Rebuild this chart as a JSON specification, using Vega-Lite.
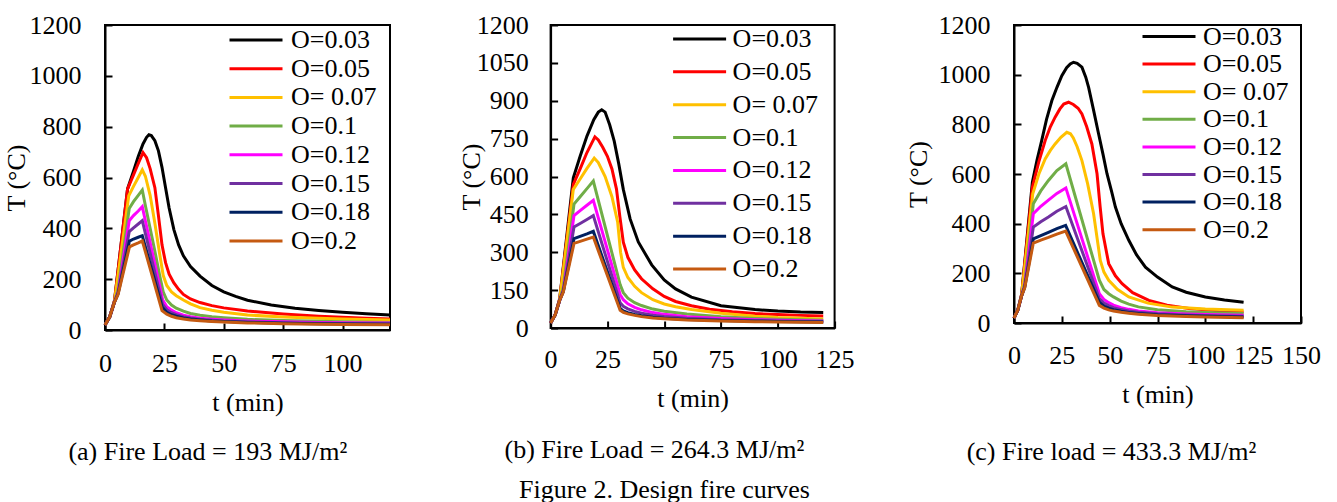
{
"$schema": "https://vega.github.io/schema/vega-lite/v6.json",
"background": "white",
"padding": {"left": 2, "top": 11, "right": 0, "bottom": 0},
"config": {
  "font": "Liberation Serif",
  "view": {"stroke": "#000000", "strokeWidth": 2},
  "axis": {"grid": false, "domainColor": "#000000", "domainWidth": 2, "tickColor": "#000000", "tickWidth": 2, "tickSize": -7, "labelColor": "#000000", "labelFontSize": 26, "titleColor": "#000000", "titleFontSize": 26, "titleFontWeight": "normal", "labelFlush": false, "labelOverlap": false, "labelFont": "Liberation Serif", "titleFont": "Liberation Serif"},
  "legend": {"orient": "none", "symbolType": "stroke", "symbolSize": 2809, "symbolStrokeWidth": 3, "labelFontSize": 26, "labelColor": "#000000", "labelFont": "Liberation Serif", "padding": 0, "labelLimit": 300},
  "title": {"fontSize": 26, "fontWeight": "normal", "color": "#000000", "font": "Liberation Serif"}
},
"title": {"text": "Figure 2. Design fire curves", "orient": "bottom", "anchor": "middle", "frame": "bounds", "offset": 10.5, "dx": 2.5},
"bounds": "flush",
"spacing": 160.6,
"resolve": {"scale": {"color": "independent"}, "legend": {"color": "independent"}},
"datasets": {
"a": [
{"O":"O=0.03","t":0,"T":20},{"O":"O=0.03","t":2,"T":52},{"O":"O=0.03","t":4,"T":115},{"O":"O=0.03","t":9.5,"T":555},{"O":"O=0.03","t":12,"T":625},{"O":"O=0.03","t":14,"T":683},{"O":"O=0.03","t":16,"T":732},{"O":"O=0.03","t":17.5,"T":758},{"O":"O=0.03","t":18.5,"T":768},{"O":"O=0.03","t":19.5,"T":765},{"O":"O=0.03","t":21,"T":745},{"O":"O=0.03","t":22.5,"T":705},{"O":"O=0.03","t":24,"T":640},{"O":"O=0.03","t":25.5,"T":560},{"O":"O=0.03","t":27,"T":480},{"O":"O=0.03","t":29,"T":395},{"O":"O=0.03","t":31,"T":335},{"O":"O=0.03","t":33,"T":292},{"O":"O=0.03","t":36,"T":250},{"O":"O=0.03","t":40,"T":212},{"O":"O=0.03","t":45,"T":175},{"O":"O=0.03","t":50,"T":150},{"O":"O=0.03","t":55,"T":132},{"O":"O=0.03","t":60,"T":117},{"O":"O=0.03","t":70,"T":98},{"O":"O=0.03","t":80,"T":86},{"O":"O=0.03","t":90,"T":77},{"O":"O=0.03","t":100,"T":70},{"O":"O=0.03","t":110,"T":64},{"O":"O=0.03","t":120,"T":59},
{"O":"O=0.05","t":0,"T":20},{"O":"O=0.05","t":2,"T":52},{"O":"O=0.05","t":4,"T":115},{"O":"O=0.05","t":9.5,"T":555},{"O":"O=0.05","t":12,"T":610},{"O":"O=0.05","t":14,"T":655},{"O":"O=0.05","t":16,"T":698},{"O":"O=0.05","t":17.5,"T":678},{"O":"O=0.05","t":19,"T":635},{"O":"O=0.05","t":21,"T":560},{"O":"O=0.05","t":22.5,"T":450},{"O":"O=0.05","t":24,"T":335},{"O":"O=0.05","t":25.5,"T":265},{"O":"O=0.05","t":27,"T":220},{"O":"O=0.05","t":29,"T":185},{"O":"O=0.05","t":31,"T":160},{"O":"O=0.05","t":33,"T":140},{"O":"O=0.05","t":36,"T":122},{"O":"O=0.05","t":40,"T":108},{"O":"O=0.05","t":45,"T":96},{"O":"O=0.05","t":50,"T":87},{"O":"O=0.05","t":60,"T":75},{"O":"O=0.05","t":75,"T":63},{"O":"O=0.05","t":90,"T":54},{"O":"O=0.05","t":100,"T":50},{"O":"O=0.05","t":110,"T":46},{"O":"O=0.05","t":120,"T":43},
{"O":"O= 0.07","t":0,"T":20},{"O":"O= 0.07","t":2,"T":52},{"O":"O= 0.07","t":4,"T":112},{"O":"O= 0.07","t":10,"T":528},{"O":"O= 0.07","t":12,"T":565},{"O":"O= 0.07","t":14,"T":600},{"O":"O= 0.07","t":15.7,"T":630},{"O":"O= 0.07","t":17,"T":605},{"O":"O= 0.07","t":19,"T":530},{"O":"O= 0.07","t":21,"T":420},{"O":"O= 0.07","t":23,"T":300},{"O":"O= 0.07","t":24.5,"T":215},{"O":"O= 0.07","t":26,"T":175},{"O":"O= 0.07","t":28,"T":150},{"O":"O= 0.07","t":30,"T":135},{"O":"O= 0.07","t":33,"T":118},{"O":"O= 0.07","t":36,"T":103},{"O":"O= 0.07","t":40,"T":88},{"O":"O= 0.07","t":45,"T":78},{"O":"O= 0.07","t":50,"T":70},{"O":"O= 0.07","t":60,"T":59},{"O":"O= 0.07","t":75,"T":51},{"O":"O= 0.07","t":90,"T":46},{"O":"O= 0.07","t":100,"T":43},{"O":"O= 0.07","t":120,"T":39},
{"O":"O=0.1","t":0,"T":20},{"O":"O=0.1","t":2,"T":52},{"O":"O=0.1","t":4,"T":110},{"O":"O=0.1","t":5.5,"T":160},{"O":"O=0.1","t":10.2,"T":478},{"O":"O=0.1","t":12,"T":505},{"O":"O=0.1","t":14,"T":530},{"O":"O=0.1","t":15.7,"T":551},{"O":"O=0.1","t":17,"T":490},{"O":"O=0.1","t":19,"T":400},{"O":"O=0.1","t":21,"T":310},{"O":"O=0.1","t":23,"T":215},{"O":"O=0.1","t":24.5,"T":150},{"O":"O=0.1","t":26,"T":118},{"O":"O=0.1","t":28,"T":98},{"O":"O=0.1","t":30,"T":86},{"O":"O=0.1","t":33,"T":74},{"O":"O=0.1","t":36,"T":65},{"O":"O=0.1","t":40,"T":58},{"O":"O=0.1","t":45,"T":52},{"O":"O=0.1","t":50,"T":48},{"O":"O=0.1","t":60,"T":42},{"O":"O=0.1","t":75,"T":37},{"O":"O=0.1","t":90,"T":34},{"O":"O=0.1","t":100,"T":32},{"O":"O=0.1","t":120,"T":30},
{"O":"O=0.12","t":0,"T":20},{"O":"O=0.12","t":2,"T":52},{"O":"O=0.12","t":4,"T":110},{"O":"O=0.12","t":5.5,"T":148},{"O":"O=0.12","t":10.2,"T":430},{"O":"O=0.12","t":12,"T":450},{"O":"O=0.12","t":14,"T":468},{"O":"O=0.12","t":15.7,"T":485},{"O":"O=0.12","t":24.3,"T":118},{"O":"O=0.12","t":26,"T":92},{"O":"O=0.12","t":28,"T":78},{"O":"O=0.12","t":30,"T":68},{"O":"O=0.12","t":33,"T":58},{"O":"O=0.12","t":36,"T":52},{"O":"O=0.12","t":40,"T":46},{"O":"O=0.12","t":45,"T":42},{"O":"O=0.12","t":50,"T":39},{"O":"O=0.12","t":60,"T":35},{"O":"O=0.12","t":75,"T":32},{"O":"O=0.12","t":90,"T":30},{"O":"O=0.12","t":100,"T":29},{"O":"O=0.12","t":120,"T":28},
{"O":"O=0.15","t":0,"T":20},{"O":"O=0.15","t":2,"T":52},{"O":"O=0.15","t":4,"T":110},{"O":"O=0.15","t":5.5,"T":145},{"O":"O=0.15","t":10.2,"T":387},{"O":"O=0.15","t":12,"T":402},{"O":"O=0.15","t":14,"T":417},{"O":"O=0.15","t":15.7,"T":430},{"O":"O=0.15","t":24.2,"T":102},{"O":"O=0.15","t":26,"T":80},{"O":"O=0.15","t":28,"T":68},{"O":"O=0.15","t":30,"T":60},{"O":"O=0.15","t":33,"T":52},{"O":"O=0.15","t":36,"T":47},{"O":"O=0.15","t":40,"T":42},{"O":"O=0.15","t":45,"T":38},{"O":"O=0.15","t":50,"T":35},{"O":"O=0.15","t":60,"T":32},{"O":"O=0.15","t":75,"T":29},{"O":"O=0.15","t":90,"T":27},{"O":"O=0.15","t":100,"T":26},{"O":"O=0.15","t":120,"T":25},
{"O":"O=0.18","t":0,"T":20},{"O":"O=0.18","t":2,"T":52},{"O":"O=0.18","t":4,"T":110},{"O":"O=0.18","t":5.5,"T":142},{"O":"O=0.18","t":10.3,"T":350},{"O":"O=0.18","t":12,"T":358},{"O":"O=0.18","t":14,"T":365},{"O":"O=0.18","t":15.7,"T":371},{"O":"O=0.18","t":24.1,"T":89},{"O":"O=0.18","t":26,"T":70},{"O":"O=0.18","t":28,"T":60},{"O":"O=0.18","t":30,"T":54},{"O":"O=0.18","t":33,"T":47},{"O":"O=0.18","t":36,"T":43},{"O":"O=0.18","t":40,"T":39},{"O":"O=0.18","t":45,"T":35},{"O":"O=0.18","t":50,"T":33},{"O":"O=0.18","t":60,"T":30},{"O":"O=0.18","t":75,"T":27},{"O":"O=0.18","t":90,"T":25},{"O":"O=0.18","t":100,"T":24},{"O":"O=0.18","t":120,"T":23},
{"O":"O=0.2","t":0,"T":20},{"O":"O=0.2","t":2,"T":52},{"O":"O=0.2","t":4,"T":110},{"O":"O=0.2","t":5.5,"T":140},{"O":"O=0.2","t":10.3,"T":327},{"O":"O=0.2","t":12,"T":335},{"O":"O=0.2","t":14,"T":343},{"O":"O=0.2","t":15.7,"T":351},{"O":"O=0.2","t":24,"T":76},{"O":"O=0.2","t":26,"T":62},{"O":"O=0.2","t":28,"T":54},{"O":"O=0.2","t":30,"T":48},{"O":"O=0.2","t":33,"T":43},{"O":"O=0.2","t":36,"T":39},{"O":"O=0.2","t":40,"T":36},{"O":"O=0.2","t":45,"T":33},{"O":"O=0.2","t":50,"T":31},{"O":"O=0.2","t":60,"T":28},{"O":"O=0.2","t":75,"T":25},{"O":"O=0.2","t":90,"T":23},{"O":"O=0.2","t":100,"T":22},{"O":"O=0.2","t":120,"T":21}
],
"b": [
{"O":"O=0.03","t":0,"T":20},{"O":"O=0.03","t":2,"T":52},{"O":"O=0.03","t":4,"T":115},{"O":"O=0.03","t":10,"T":595},{"O":"O=0.03","t":13,"T":680},{"O":"O=0.03","t":16,"T":760},{"O":"O=0.03","t":19,"T":825},{"O":"O=0.03","t":21,"T":855},{"O":"O=0.03","t":22.5,"T":864},{"O":"O=0.03","t":24,"T":855},{"O":"O=0.03","t":26,"T":805},{"O":"O=0.03","t":28,"T":740},{"O":"O=0.03","t":30,"T":650},{"O":"O=0.03","t":32,"T":549},{"O":"O=0.03","t":35,"T":432},{"O":"O=0.03","t":38.6,"T":341},{"O":"O=0.03","t":44.5,"T":250},{"O":"O=0.03","t":50,"T":190},{"O":"O=0.03","t":55,"T":155},{"O":"O=0.03","t":62,"T":122},{"O":"O=0.03","t":75,"T":88},{"O":"O=0.03","t":90,"T":73},{"O":"O=0.03","t":100,"T":67},{"O":"O=0.03","t":110,"T":63},{"O":"O=0.03","t":120,"T":61},
{"O":"O=0.05","t":0,"T":20},{"O":"O=0.05","t":2,"T":52},{"O":"O=0.05","t":4,"T":115},{"O":"O=0.05","t":10,"T":569},{"O":"O=0.05","t":13,"T":630},{"O":"O=0.05","t":16,"T":695},{"O":"O=0.05","t":19.5,"T":757},{"O":"O=0.05","t":21,"T":745},{"O":"O=0.05","t":23,"T":715},{"O":"O=0.05","t":25,"T":680},{"O":"O=0.05","t":27,"T":630},{"O":"O=0.05","t":29,"T":550},{"O":"O=0.05","t":30.5,"T":440},{"O":"O=0.05","t":32,"T":340},{"O":"O=0.05","t":34,"T":280},{"O":"O=0.05","t":37,"T":230},{"O":"O=0.05","t":40,"T":195},{"O":"O=0.05","t":45,"T":155},{"O":"O=0.05","t":50,"T":125},{"O":"O=0.05","t":55,"T":105},{"O":"O=0.05","t":62,"T":88},{"O":"O=0.05","t":70,"T":74},{"O":"O=0.05","t":80,"T":64},{"O":"O=0.05","t":90,"T":57},{"O":"O=0.05","t":100,"T":53},{"O":"O=0.05","t":110,"T":50},{"O":"O=0.05","t":120,"T":48},
{"O":"O= 0.07","t":0,"T":20},{"O":"O= 0.07","t":2,"T":52},{"O":"O= 0.07","t":4,"T":113},{"O":"O= 0.07","t":10,"T":549},{"O":"O= 0.07","t":13,"T":590},{"O":"O= 0.07","t":16,"T":632},{"O":"O= 0.07","t":19.2,"T":673},{"O":"O= 0.07","t":21,"T":655},{"O":"O= 0.07","t":24,"T":600},{"O":"O= 0.07","t":27,"T":520},{"O":"O= 0.07","t":29.5,"T":420},{"O":"O= 0.07","t":30.8,"T":300},{"O":"O= 0.07","t":32,"T":240},{"O":"O= 0.07","t":34,"T":200},{"O":"O= 0.07","t":37,"T":165},{"O":"O= 0.07","t":40,"T":140},{"O":"O= 0.07","t":45,"T":112},{"O":"O= 0.07","t":50,"T":95},{"O":"O= 0.07","t":55,"T":84},{"O":"O= 0.07","t":62,"T":73},{"O":"O= 0.07","t":75,"T":58},{"O":"O= 0.07","t":90,"T":47},{"O":"O= 0.07","t":100,"T":42},{"O":"O= 0.07","t":120,"T":36},
{"O":"O=0.1","t":0,"T":20},{"O":"O=0.1","t":2,"T":52},{"O":"O=0.1","t":4,"T":110},{"O":"O=0.1","t":5.6,"T":160},{"O":"O=0.1","t":10.3,"T":491},{"O":"O=0.1","t":13,"T":520},{"O":"O=0.1","t":16,"T":552},{"O":"O=0.1","t":18.8,"T":582},{"O":"O=0.1","t":30.6,"T":172},{"O":"O=0.1","t":32,"T":140},{"O":"O=0.1","t":34,"T":118},{"O":"O=0.1","t":37,"T":100},{"O":"O=0.1","t":40,"T":89},{"O":"O=0.1","t":45,"T":75},{"O":"O=0.1","t":50,"T":66},{"O":"O=0.1","t":60,"T":55},{"O":"O=0.1","t":75,"T":45},{"O":"O=0.1","t":90,"T":38},{"O":"O=0.1","t":100,"T":35},{"O":"O=0.1","t":120,"T":31},
{"O":"O=0.12","t":0,"T":20},{"O":"O=0.12","t":2,"T":52},{"O":"O=0.12","t":4,"T":110},{"O":"O=0.12","t":5.6,"T":148},{"O":"O=0.12","t":10.3,"T":445},{"O":"O=0.12","t":13,"T":465},{"O":"O=0.12","t":16,"T":486},{"O":"O=0.12","t":18.8,"T":506},{"O":"O=0.12","t":30.6,"T":133},{"O":"O=0.12","t":32,"T":112},{"O":"O=0.12","t":34,"T":96},{"O":"O=0.12","t":37,"T":82},{"O":"O=0.12","t":40,"T":72},{"O":"O=0.12","t":45,"T":61},{"O":"O=0.12","t":50,"T":54},{"O":"O=0.12","t":60,"T":45},{"O":"O=0.12","t":75,"T":38},{"O":"O=0.12","t":90,"T":33},{"O":"O=0.12","t":100,"T":31},{"O":"O=0.12","t":120,"T":28},
{"O":"O=0.15","t":0,"T":20},{"O":"O=0.15","t":2,"T":52},{"O":"O=0.15","t":4,"T":110},{"O":"O=0.15","t":5.6,"T":146},{"O":"O=0.15","t":10.3,"T":400},{"O":"O=0.15","t":13,"T":414},{"O":"O=0.15","t":16,"T":430},{"O":"O=0.15","t":18.8,"T":445},{"O":"O=0.15","t":30.6,"T":100},{"O":"O=0.15","t":32,"T":86},{"O":"O=0.15","t":34,"T":76},{"O":"O=0.15","t":37,"T":66},{"O":"O=0.15","t":40,"T":59},{"O":"O=0.15","t":45,"T":51},{"O":"O=0.15","t":50,"T":46},{"O":"O=0.15","t":60,"T":39},{"O":"O=0.15","t":75,"T":33},{"O":"O=0.15","t":90,"T":30},{"O":"O=0.15","t":100,"T":28},{"O":"O=0.15","t":120,"T":26},
{"O":"O=0.18","t":0,"T":20},{"O":"O=0.18","t":2,"T":52},{"O":"O=0.18","t":4,"T":110},{"O":"O=0.18","t":5.6,"T":144},{"O":"O=0.18","t":10.3,"T":354},{"O":"O=0.18","t":13,"T":363},{"O":"O=0.18","t":16,"T":373},{"O":"O=0.18","t":18.8,"T":383},{"O":"O=0.18","t":30.6,"T":78},{"O":"O=0.18","t":32,"T":68},{"O":"O=0.18","t":34,"T":61},{"O":"O=0.18","t":37,"T":54},{"O":"O=0.18","t":40,"T":49},{"O":"O=0.18","t":45,"T":43},{"O":"O=0.18","t":50,"T":39},{"O":"O=0.18","t":60,"T":34},{"O":"O=0.18","t":75,"T":30},{"O":"O=0.18","t":90,"T":27},{"O":"O=0.18","t":100,"T":26},{"O":"O=0.18","t":120,"T":24},
{"O":"O=0.2","t":0,"T":20},{"O":"O=0.2","t":2,"T":52},{"O":"O=0.2","t":4,"T":110},{"O":"O=0.2","t":5.6,"T":142},{"O":"O=0.2","t":10.3,"T":335},{"O":"O=0.2","t":13,"T":343},{"O":"O=0.2","t":16,"T":352},{"O":"O=0.2","t":18.8,"T":360},{"O":"O=0.2","t":30.6,"T":70},{"O":"O=0.2","t":32,"T":62},{"O":"O=0.2","t":34,"T":56},{"O":"O=0.2","t":37,"T":50},{"O":"O=0.2","t":40,"T":45},{"O":"O=0.2","t":45,"T":40},{"O":"O=0.2","t":50,"T":37},{"O":"O=0.2","t":60,"T":32},{"O":"O=0.2","t":75,"T":28},{"O":"O=0.2","t":90,"T":25},{"O":"O=0.2","t":100,"T":24},{"O":"O=0.2","t":120,"T":22}
],
"c": [
{"O":"O=0.03","t":0,"T":20},{"O":"O=0.03","t":2,"T":52},{"O":"O=0.03","t":4,"T":115},{"O":"O=0.03","t":9.6,"T":567},{"O":"O=0.03","t":12,"T":655},{"O":"O=0.03","t":14.5,"T":735},{"O":"O=0.03","t":17,"T":820},{"O":"O=0.03","t":19.8,"T":896},{"O":"O=0.03","t":22.5,"T":950},{"O":"O=0.03","t":25,"T":996},{"O":"O=0.03","t":27.5,"T":1028},{"O":"O=0.03","t":29.4,"T":1043},{"O":"O=0.03","t":31.1,"T":1050},{"O":"O=0.03","t":33,"T":1046},{"O":"O=0.03","t":35.5,"T":1030},{"O":"O=0.03","t":37.5,"T":990},{"O":"O=0.03","t":39,"T":949},{"O":"O=0.03","t":41.5,"T":860},{"O":"O=0.03","t":44.2,"T":762},{"O":"O=0.03","t":46.5,"T":680},{"O":"O=0.03","t":48.6,"T":601},{"O":"O=0.03","t":51,"T":530},{"O":"O=0.03","t":53,"T":467},{"O":"O=0.03","t":56,"T":400},{"O":"O=0.03","t":60,"T":333},{"O":"O=0.03","t":64,"T":275},{"O":"O=0.03","t":68.7,"T":225},{"O":"O=0.03","t":75,"T":185},{"O":"O=0.03","t":82.7,"T":145},{"O":"O=0.03","t":90,"T":124},{"O":"O=0.03","t":100,"T":105},{"O":"O=0.03","t":110,"T":93},{"O":"O=0.03","t":120,"T":84},
{"O":"O=0.05","t":0,"T":20},{"O":"O=0.05","t":2,"T":52},{"O":"O=0.05","t":4,"T":115},{"O":"O=0.05","t":9.6,"T":547},{"O":"O=0.05","t":13,"T":650},{"O":"O=0.05","t":16.3,"T":735},{"O":"O=0.05","t":19,"T":790},{"O":"O=0.05","t":21.5,"T":829},{"O":"O=0.05","t":24,"T":862},{"O":"O=0.05","t":26,"T":882},{"O":"O=0.05","t":28.5,"T":889},{"O":"O=0.05","t":31,"T":880},{"O":"O=0.05","t":33.5,"T":865},{"O":"O=0.05","t":35.5,"T":842},{"O":"O=0.05","t":38,"T":790},{"O":"O=0.05","t":40.7,"T":721},{"O":"O=0.05","t":43.4,"T":601},{"O":"O=0.05","t":45,"T":470},{"O":"O=0.05","t":46.5,"T":359},{"O":"O=0.05","t":49.5,"T":239},{"O":"O=0.05","t":53,"T":190},{"O":"O=0.05","t":56.5,"T":158},{"O":"O=0.05","t":62,"T":122},{"O":"O=0.05","t":70.5,"T":91},{"O":"O=0.05","t":80,"T":72},{"O":"O=0.05","t":91.4,"T":58},{"O":"O=0.05","t":105,"T":50},{"O":"O=0.05","t":120,"T":44},
{"O":"O= 0.07","t":0,"T":20},{"O":"O= 0.07","t":2,"T":52},{"O":"O= 0.07","t":4,"T":113},{"O":"O= 0.07","t":9.8,"T":520},{"O":"O= 0.07","t":13,"T":600},{"O":"O= 0.07","t":16.3,"T":661},{"O":"O= 0.07","t":19,"T":695},{"O":"O= 0.07","t":21.5,"T":721},{"O":"O= 0.07","t":24.5,"T":748},{"O":"O= 0.07","t":27.6,"T":768},{"O":"O= 0.07","t":29.5,"T":762},{"O":"O= 0.07","t":31,"T":745},{"O":"O= 0.07","t":33,"T":710},{"O":"O= 0.07","t":35.5,"T":654},{"O":"O= 0.07","t":38.5,"T":560},{"O":"O= 0.07","t":41.6,"T":440},{"O":"O= 0.07","t":45.1,"T":252},{"O":"O= 0.07","t":47,"T":205},{"O":"O= 0.07","t":49.5,"T":172},{"O":"O= 0.07","t":54,"T":136},{"O":"O= 0.07","t":60,"T":105},{"O":"O= 0.07","t":70,"T":80},{"O":"O= 0.07","t":82.7,"T":64},{"O":"O= 0.07","t":100,"T":56},{"O":"O= 0.07","t":120,"T":51},
{"O":"O=0.1","t":0,"T":20},{"O":"O=0.1","t":2,"T":52},{"O":"O=0.1","t":4,"T":110},{"O":"O=0.1","t":5.6,"T":160},{"O":"O=0.1","t":10.1,"T":480},{"O":"O=0.1","t":14,"T":532},{"O":"O=0.1","t":18,"T":574},{"O":"O=0.1","t":22.4,"T":614},{"O":"O=0.1","t":27.1,"T":641},{"O":"O=0.1","t":44.6,"T":172},{"O":"O=0.1","t":47,"T":135},{"O":"O=0.1","t":49.5,"T":118},{"O":"O=0.1","t":52,"T":105},{"O":"O=0.1","t":56,"T":88},{"O":"O=0.1","t":60,"T":76},{"O":"O=0.1","t":65,"T":65},{"O":"O=0.1","t":75,"T":53},{"O":"O=0.1","t":90,"T":45},{"O":"O=0.1","t":100,"T":42},{"O":"O=0.1","t":120,"T":38},
{"O":"O=0.12","t":0,"T":20},{"O":"O=0.12","t":2,"T":52},{"O":"O=0.12","t":4,"T":110},{"O":"O=0.12","t":5.6,"T":150},{"O":"O=0.12","t":10.1,"T":440},{"O":"O=0.12","t":14,"T":470},{"O":"O=0.12","t":18,"T":495},{"O":"O=0.12","t":22.4,"T":522},{"O":"O=0.12","t":27.1,"T":544},{"O":"O=0.12","t":44.6,"T":118},{"O":"O=0.12","t":47,"T":95},{"O":"O=0.12","t":49.5,"T":82},{"O":"O=0.12","t":52,"T":72},{"O":"O=0.12","t":56,"T":62},{"O":"O=0.12","t":60,"T":55},{"O":"O=0.12","t":65,"T":48},{"O":"O=0.12","t":75,"T":41},{"O":"O=0.12","t":90,"T":36},{"O":"O=0.12","t":100,"T":34},{"O":"O=0.12","t":120,"T":31},
{"O":"O=0.15","t":0,"T":20},{"O":"O=0.15","t":2,"T":52},{"O":"O=0.15","t":4,"T":110},{"O":"O=0.15","t":5.6,"T":147},{"O":"O=0.15","t":10.1,"T":386},{"O":"O=0.15","t":14,"T":408},{"O":"O=0.15","t":18,"T":427},{"O":"O=0.15","t":22.4,"T":450},{"O":"O=0.15","t":27.1,"T":469},{"O":"O=0.15","t":44.6,"T":98},{"O":"O=0.15","t":47,"T":80},{"O":"O=0.15","t":49.5,"T":70},{"O":"O=0.15","t":52,"T":62},{"O":"O=0.15","t":56,"T":54},{"O":"O=0.15","t":60,"T":48},{"O":"O=0.15","t":65,"T":43},{"O":"O=0.15","t":75,"T":37},{"O":"O=0.15","t":90,"T":32},{"O":"O=0.15","t":100,"T":30},{"O":"O=0.15","t":120,"T":27},
{"O":"O=0.18","t":0,"T":20},{"O":"O=0.18","t":2,"T":52},{"O":"O=0.18","t":4,"T":110},{"O":"O=0.18","t":5.6,"T":144},{"O":"O=0.18","t":10.1,"T":339},{"O":"O=0.18","t":14,"T":352},{"O":"O=0.18","t":18,"T":365},{"O":"O=0.18","t":22.4,"T":380},{"O":"O=0.18","t":27,"T":393},{"O":"O=0.18","t":44.6,"T":84},{"O":"O=0.18","t":47,"T":68},{"O":"O=0.18","t":49.5,"T":60},{"O":"O=0.18","t":52,"T":54},{"O":"O=0.18","t":56,"T":47},{"O":"O=0.18","t":60,"T":42},{"O":"O=0.18","t":65,"T":38},{"O":"O=0.18","t":75,"T":33},{"O":"O=0.18","t":90,"T":29},{"O":"O=0.18","t":100,"T":27},{"O":"O=0.18","t":120,"T":24},
{"O":"O=0.2","t":0,"T":20},{"O":"O=0.2","t":2,"T":52},{"O":"O=0.2","t":4,"T":110},{"O":"O=0.2","t":5.6,"T":142},{"O":"O=0.2","t":10.1,"T":322},{"O":"O=0.2","t":14,"T":334},{"O":"O=0.2","t":18,"T":345},{"O":"O=0.2","t":22.4,"T":358},{"O":"O=0.2","t":27,"T":370},{"O":"O=0.2","t":44.6,"T":71},{"O":"O=0.2","t":47,"T":60},{"O":"O=0.2","t":49.5,"T":53},{"O":"O=0.2","t":52,"T":48},{"O":"O=0.2","t":56,"T":43},{"O":"O=0.2","t":60,"T":39},{"O":"O=0.2","t":65,"T":35},{"O":"O=0.2","t":75,"T":30},{"O":"O=0.2","t":90,"T":26},{"O":"O=0.2","t":100,"T":24},{"O":"O=0.2","t":120,"T":21}
]
},
"hconcat": [
{
  "width": 285, "height": 305,
  "data": {"name": "a"},
  "title": {"text": "(a) Fire Load = 193 MJ/m²", "orient": "bottom", "anchor": "middle", "frame": "group", "offset": 24, "dx": -39.7},
  "mark": {"type": "line", "strokeWidth": 3},
  "encoding": {
    "x": {"field": "t", "type": "quantitative", "scale": {"domain": [0, 120], "nice": false}, "axis": {"title": "t (min)", "values": [0, 25, 50, 75, 100], "labelPadding": 27, "titlePadding": 13}},
    "y": {"field": "T", "type": "quantitative", "scale": {"domain": [0, 1200], "nice": false}, "axis": {"title": "T (°C)", "format": "d", "values": [0, 200, 400, 600, 800, 1000, 1200], "labelPadding": 31, "titlePadding": -0.5}},
    "color": {"field": "O", "type": "nominal", "sort": null,
      "scale": {"domain": ["O=0.03", "O=0.05", "O= 0.07", "O=0.1", "O=0.12", "O=0.15", "O=0.18", "O=0.2"], "range": ["#000000", "#FF0000", "#FFC000", "#70AD47", "#FF00FF", "#7030A0", "#002060", "#C55A11"]},
      "legend": {"title": null, "orient": "none", "legendX": 123, "legendY": 1, "clipHeight": 28, "rowPadding": 0.7, "labelOffset": 7}}
  }
},
{
  "bounds": "flush",
  "spacing": 179.4,
  "resolve": {"scale": {"color": "independent"}, "legend": {"color": "independent"}},
  "hconcat": [
  {
    "width": 284, "height": 303,
    "data": {"name": "b"},
    "title": {"text": "(b) Fire Load = 264.3 MJ/m²", "orient": "bottom", "anchor": "middle", "frame": "group", "offset": 26, "dx": -38.2},
    "mark": {"type": "line", "strokeWidth": 3},
    "encoding": {
      "x": {"field": "t", "type": "quantitative", "scale": {"domain": [0, 125], "nice": false}, "axis": {"title": "t (min)", "values": [0, 25, 50, 75, 100, 125], "labelPadding": 25.4, "titlePadding": 13}},
      "y": {"field": "T", "type": "quantitative", "scale": {"domain": [0, 1200], "nice": false}, "axis": {"title": "T (°C)", "format": "d", "values": [0, 150, 300, 450, 600, 750, 900, 1050, 1200], "labelPadding": 29.3, "titlePadding": -8}},
      "color": {"field": "O", "type": "nominal", "sort": null,
        "scale": {"domain": ["O=0.03", "O=0.05", "O= 0.07", "O=0.1", "O=0.12", "O=0.15", "O=0.18", "O=0.2"], "range": ["#000000", "#FF0000", "#FFC000", "#70AD47", "#FF00FF", "#7030A0", "#002060", "#C55A11"]},
        "legend": {"title": null, "orient": "none", "legendX": 121, "legendY": 0, "clipHeight": 28, "rowPadding": 4.86, "labelOffset": 5}}
    }
  },
  {
    "width": 287, "height": 298,
    "data": {"name": "c"},
    "title": {"text": "(c) Fire load = 433.3 MJ/m²", "orient": "bottom", "anchor": "middle", "frame": "group", "offset": 31, "dx": -46},
    "mark": {"type": "line", "strokeWidth": 3},
    "encoding": {
      "x": {"field": "t", "type": "quantitative", "scale": {"domain": [0, 150], "nice": false}, "axis": {"title": "t (min)", "values": [0, 25, 50, 75, 100, 125, 150], "labelPadding": 26.6, "titlePadding": 13}},
      "y": {"field": "T", "type": "quantitative", "scale": {"domain": [0, 1200], "nice": false}, "axis": {"title": "T (°C)", "format": "d", "values": [0, 200, 400, 600, 800, 1000, 1200], "labelPadding": 31, "titlePadding": 6.7}},
      "color": {"field": "O", "type": "nominal", "sort": null,
        "scale": {"domain": ["O=0.03", "O=0.05", "O= 0.07", "O=0.1", "O=0.12", "O=0.15", "O=0.18", "O=0.2"], "range": ["#000000", "#FF0000", "#FFC000", "#70AD47", "#FF00FF", "#7030A0", "#002060", "#C55A11"]},
        "legend": {"title": null, "orient": "none", "legendX": 127, "legendY": -2, "clipHeight": 27, "rowPadding": 0.6, "labelOffset": 6}}
    }
  }
  ]
}
]
}
